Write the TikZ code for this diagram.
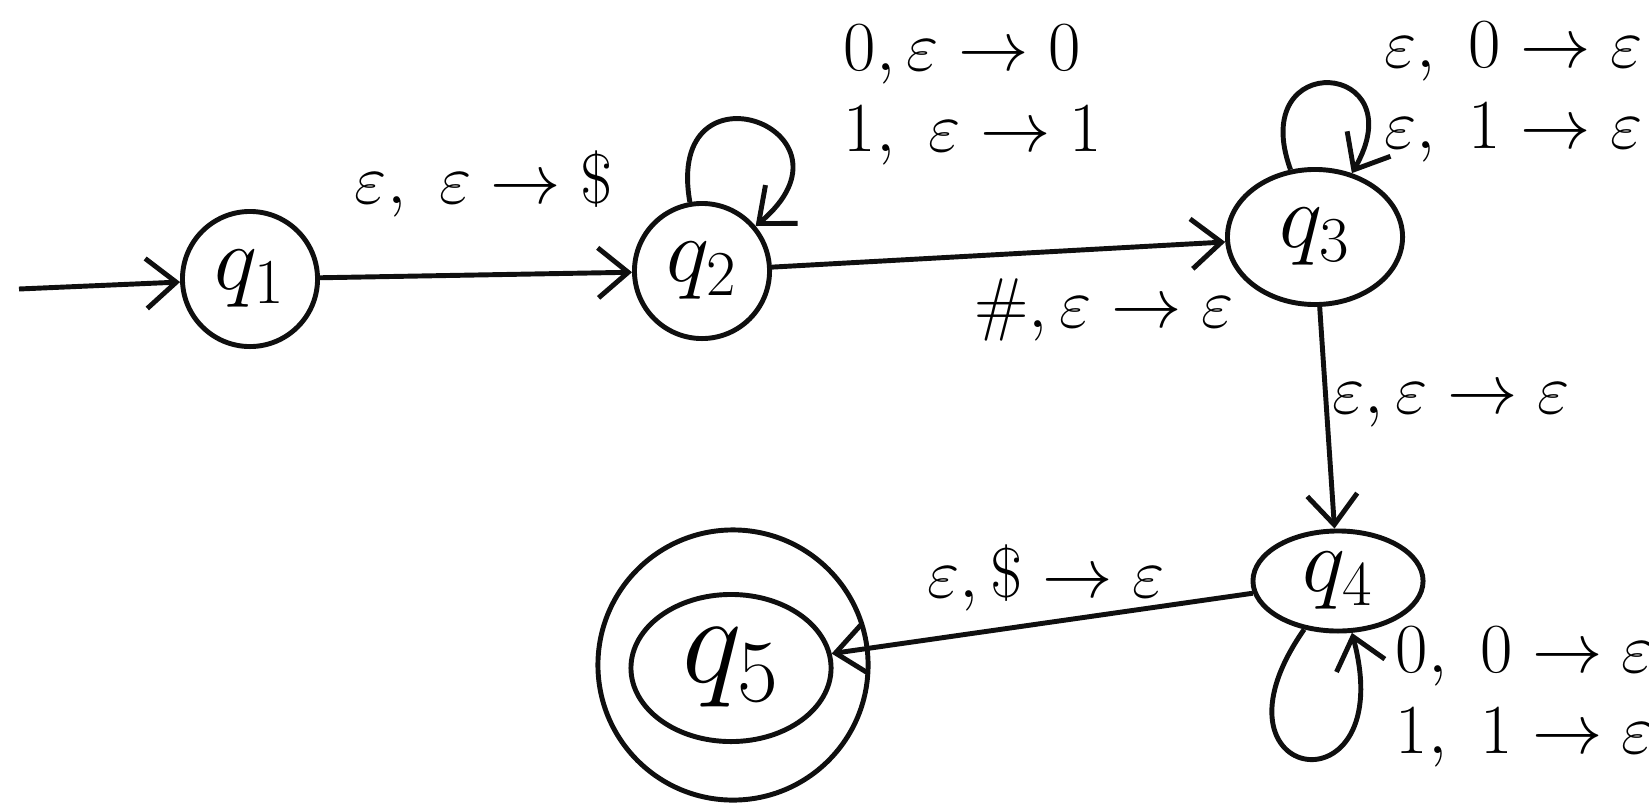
\RequirePackage{fix-cm}
\documentclass[tikz,border=0pt]{standalone}
\usetikzlibrary{positioning,arrows.meta,shapes.geometric}
\definecolor{Ink}{RGB}{15,15,15}
\tikzset{
  flow/.style={-{Straight Barb[length=3mm,width=5mm]},line width=1.4pt,draw=Ink},
  statebox/.style={draw=Ink,line width=1.4pt,circle,minimum size=1.35cm,
    inner sep=0pt,font=\fontsize{26}{30}\selectfont},
  ovalbox/.style={statebox,ellipse,minimum width=1.75cm,minimum height=1.35cm},
  lbl/.style={font=\fontsize{20}{23}\selectfont,align=left,inner sep=1pt}
}
\begin{document}
\begin{tikzpicture}[x=0.01cm,y=-0.01cm]
  \useasboundingbox (0,0) rectangle (1649,809);
  \node[statebox] (q1) at (250,279) {$q_1$};
  \node[statebox] (q2) at (702,271) {$q_2$};
  \node[ovalbox] (q3) at (1315,237) {$q_3$};
  \node[ovalbox,minimum width=1.7cm,minimum height=1.0cm] (q4) at (1338,581) {$q_4$};
  \node[ovalbox,minimum width=2.0cm,minimum height=1.47cm,
    font=\fontsize{36}{40}\selectfont] (q5) at (731,668) {$q_5$};
  \node[statebox,minimum size=2.7cm] (q5ring) at (733,665) {};
  \coordinate (start) at (19,289);

  % labels
  \node[lbl] (l12) at (484,184) {$\varepsilon,\ \varepsilon\to\$$};
  \node[lbl] (l22) at (973,95) {$0,\varepsilon\to 0$\\$1,\ \varepsilon\to 1$};
  \node[lbl,anchor=east] (l33) at (1647,92) {$\varepsilon,\ 0\to\varepsilon$\\$\varepsilon,\ 1\to\varepsilon$};
  \node[lbl] (l23) at (1104,310) {$\#,\varepsilon\to\varepsilon$};
  \node[lbl] (l34) at (1451,405) {$\varepsilon,\varepsilon\to\varepsilon$};
  \node[lbl] (l45) at (1046,578) {$\varepsilon,\$\to\varepsilon$};
  \node[lbl] (l44) at (1525,697) {$0,\ 0\to\varepsilon$\\$1,\ 1\to\varepsilon$};

  % transitions
  \draw[flow] (start) -- (q1);
  \draw[flow] (q1) -- (q2);
  \draw[flow] (q2) -- (q3);
  \draw[flow] (q3) -- (q4);
  \draw[flow] (q4) -- (q5);
  \draw[flow] (q2) to[out=100,in=40,distance=1.5cm] (q2);
  \draw[flow] (q3) to[out=110,in=60,distance=1.3cm] (q3);
  \draw[flow] (q4) to[out=235,in=285,distance=1.9cm] (q4);
\end{tikzpicture}
\end{document}
